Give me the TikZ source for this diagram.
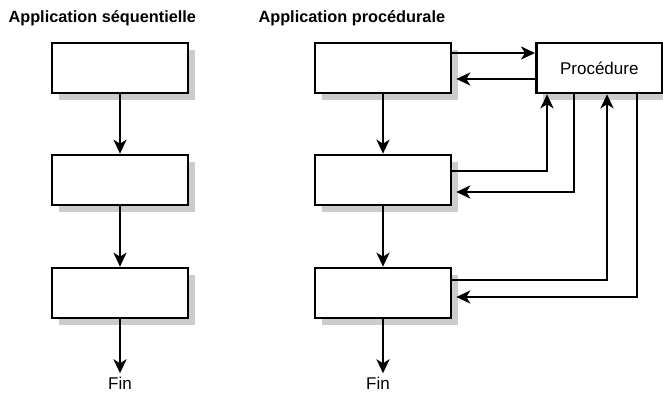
\documentclass[tikz,border=0pt]{standalone}
\usepackage{fontspec}
\setmainfont{Liberation Sans}
\usetikzlibrary{arrows.meta,shadows}
\begin{document}
\begin{tikzpicture}[x=1pt,y=-1pt,
  box/.style={draw,line width=2.6pt,fill=white,minimum width=136pt,minimum height=50pt,inner sep=0pt,
    drop shadow={shadow xshift=7pt,shadow yshift=-7pt,fill=black!20,opacity=1}},
  flow/.style={line width=2.6pt,-{Stealth[length=14pt,width=13pt,inset=4pt]}},
  title/.style={font=\bfseries\fontsize{16.3}{19}\selectfont,anchor=west},
  lbl/.style={font=\fontsize{17}{20}\selectfont}]
\useasboundingbox (0,0) rectangle (663,395);
% headings
\node[title] (t1) at (5,18) {Application séquentielle};
\node[title] (t2) at (255,18) {Application procédurale};
% sequential column
\node[box] (a1) at (120,68) {};
\node[box] (a2) at (120,180) {};
\node[box] (a3) at (120,293) {};
\node[lbl] (af) at (120,383) {Fin};
\draw[flow] (a1) -- (a2);
\draw[flow] (a2) -- (a3);
\draw[flow] (a3) -- (af);
% procedural column
\node[box] (b1) at (383,68) {};
\node[box] (b2) at (383,180) {};
\node[box] (b3) at (383,293) {};
\node[lbl] (bf) at (378,383) {Fin};
\node[box,lbl,minimum width=126pt,anchor=west] (p) at (535,68) {Procédure};
\draw[flow] (b1) -- (b2);
\draw[flow] (b2) -- (b3);
\draw[flow] (b3.south) -- (b3.south|-bf.north);
% calls and returns between the steps and the procedure
\draw[flow] (b1.east|-0,53) -- (p.west|-0,53);
\draw[flow] (p.west|-0,79) -- ([xshift=4pt]b1.east|-0,79);
\coordinate (c2) at (547,171);
\coordinate (r2) at (574,192);
\coordinate (c3) at (607,280);
\coordinate (r3) at (637,297);
\draw[flow] (b2.east|-c2) -- (c2) -- (c2|-p.south);
\draw[flow] (r2|-p.south) -- (r2) -- ([xshift=4pt]b2.east|-r2);
\draw[flow] (b3.east|-c3) -- (c3) -- (c3|-p.south);
\draw[flow] (r3|-p.south) -- (r3) -- ([xshift=4pt]b3.east|-r3);
\end{tikzpicture}
\end{document}
